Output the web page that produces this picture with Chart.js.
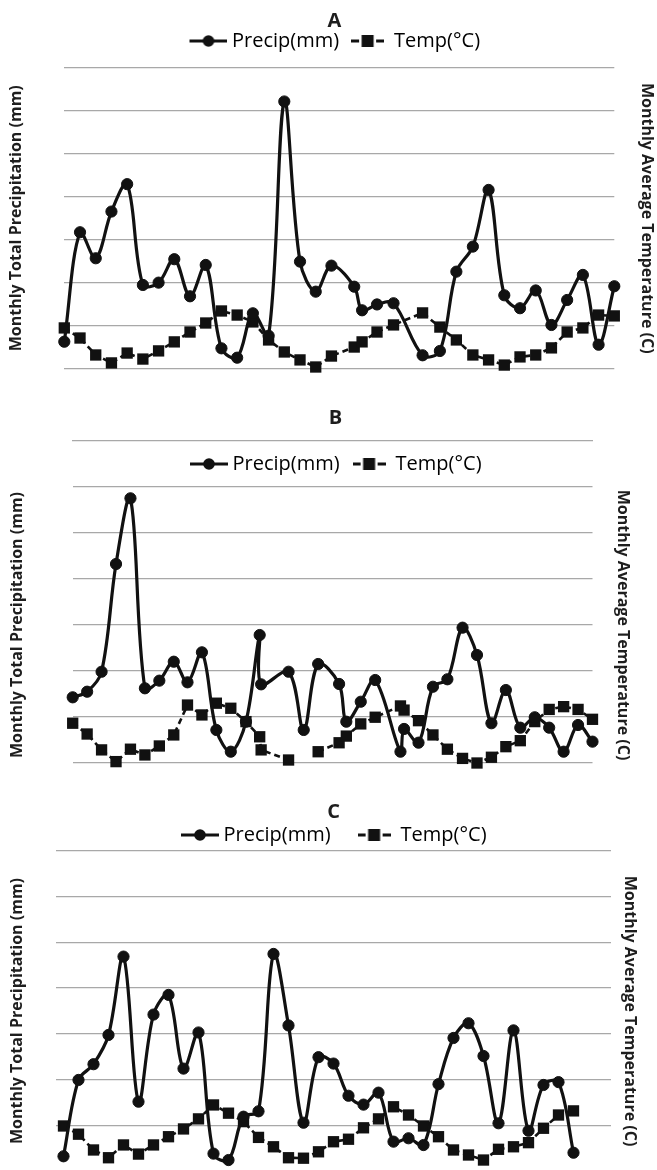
<!DOCTYPE html>
<html>
<head>
<meta charset="utf-8">
<script src="https://cdn.jsdelivr.net/npm/chart.js@4.4.1/dist/chart.umd.min.js"></script>
<style>
html,body{margin:0;padding:0;background:#fff;width:657px;height:1170px;overflow:hidden;position:relative;}
.panel{position:absolute;left:0;width:657px;}
canvas{display:block;}
</style>
</head>
<body>
<div class="panel" style="top:0;height:390px"><canvas id="cA" width="657" height="390"></canvas></div>
<div class="panel" style="top:390px;height:390px"><canvas id="cB" width="657" height="390"></canvas></div>
<div class="panel" style="top:780px;height:400px"><canvas id="cC" width="657" height="400"></canvas></div>
<script>
// ---------- DATA (month position along the time axis, values) ----------
const panelTitles = ['A', 'B', 'C'];
const seriesNames = ['Precip(mm)', 'Temp(°C)'];
const leftAxisTitle = 'Monthly Total Precipitation (mm)';
const rightAxisTitle = 'Monthly Average Temperature (C)';

const monthsA = [0,1,2,3,4,5,6,7,8,9,10,11,12,13,14,15,16,17,18.45,18.95,19.9,20.95,22.8,23.9,24.95,26,27,28,29,30,31,32,33,34,35];
const precipA = [31.2,158.7,128.4,182.8,214.7,97.3,100,127.3,84.1,120.6,23.5,12.6,64.3,38.2,311,124.5,89.5,119.8,95.3,67.8,74.6,76,15.4,20.4,112.8,142,208,85.3,70.2,90.9,50.7,79.8,109,27.7,95.8];
const tempA = [18.9,14.2,6.3,2.6,7.2,4.4,8.2,12.4,17,21.2,26.8,24.9,21.7,13.3,7.7,4,0.7,5.8,10,12.4,17,20.3,25.9,19.3,13.3,6.3,4,1.6,5.4,6.3,9.6,17,18.9,24.9,24.5];

const monthsB = [0,1,2,3,4,5,6,7,7.95,8.95,9.95,10.95,12,12.95,13.05,14.95,16,17,18.45,18.95,19.95,20.95,22.7,22.95,23.95,24.95,25.95,27,28,29,30,31,32,33,34,35,36];
const precipB = [71.4,77.5,99.2,216.3,287.7,81.2,89.5,110.1,87.7,120.3,35.9,12.3,44.9,139.1,85.5,99.2,35.9,107.6,85.9,44.9,66.6,90.2,12.3,37,22.1,82.9,91,147.1,117.4,43.2,79.3,38.4,49.7,38.4,12.3,41.3,23.2];
const tempB = [17.3,12.6,5.7,0.6,6,3.5,7.4,12.2,25.2,20.9,26,23.8,18,11.4,5.7,1.3,null,4.9,8.8,11.7,17,19.9,24.8,23,18.4,12.2,6,2,0,2.5,7.1,9.7,18,23.3,24.5,23.3,19];

const monthsC = [0,1,2,3,4,5,6,7,8,9,10,11,12,13,14,15,16,17,18,19,20,21,22,23,24,25,26,27,28,29,30,31,32,33,34];
const precipC = [16.1,99.6,116.8,148.8,234.5,75.8,171.1,192.6,112,151.5,19,12,59.4,65.3,237.4,159.2,52.8,124.5,117.5,82.3,72.6,85.7,32.1,35.8,28.4,95,145.5,161.6,125.8,52.2,153.8,44,94.1,97.2,20];
const tempC = [19.7,16.1,9.2,5.8,11.4,7.4,11.4,15,18.4,22.8,28.9,25.3,21.6,14.7,10.6,5.8,5.6,8.4,12.8,13.9,18.9,22.8,28.1,24.5,19.7,15,9.2,7,4.8,9.5,10.6,12.4,18.7,24.5,26.3];

// ---------- STYLE ----------
const FONT = "'Open Sans', 'Noto Sans', 'DejaVu Sans', sans-serif";
const INK = '#111111';
const TEXT = '#1e1e1e';
const GRID = '#a8a8a8';
Chart.defaults.font.family = FONT;

function legendGlyph(kind) {
  const c = document.createElement('canvas');
  if (kind === 0) {
    c.width = 44; c.height = 14;
    const ctx = c.getContext('2d');
    ctx.strokeStyle = INK; ctx.lineWidth = 3.2;
    ctx.beginPath(); ctx.moveTo(6, 7); ctx.lineTo(44, 7); ctx.stroke();
    ctx.fillStyle = INK; ctx.beginPath(); ctx.arc(25, 7, 5.8, 0, Math.PI * 2); ctx.fill();
  } else {
    c.width = 33; c.height = 14;
    const ctx = c.getContext('2d');
    ctx.strokeStyle = INK; ctx.lineWidth = 3.2;
    ctx.beginPath(); ctx.moveTo(0, 7); ctx.lineTo(8, 7); ctx.moveTo(25, 7); ctx.lineTo(33, 7); ctx.stroke();
    ctx.fillStyle = INK; ctx.fillRect(10.5, 1, 12, 12);
  }
  return c;
}
const glyphs = [legendGlyph(0), legendGlyph(1)];

function buildChart(canvasId, title, months, precip, temp, g) {
  const pts = ys => months.map((m, i) => ({ x: m, y: ys[i] }));
  const scales = {
    x: { type: 'linear', min: g.xMin, max: g.xMax, display: false },
    y: {
      type: 'linear', position: 'left', min: 0, max: g.yMax,
      ticks: { display: false, stepSize: 50 },
      grid: { color: GRID, lineWidth: 1.3, drawTicks: false },
      border: { display: false },
      title: { display: true, text: leftAxisTitle, color: TEXT,
               font: { family: FONT, size: 16, weight: 'bold' },
               padding: { top: g.lt, bottom: g.lb } }
    },
    y1: {
      type: 'linear', position: 'right', min: 0, max: g.tMax,
      ticks: { display: false, stepSize: 20 },
      grid: { display: false, drawTicks: false },
      border: { display: false },
      title: { display: true, text: rightAxisTitle, color: TEXT,
               font: { family: FONT, size: 16, weight: 'bold' },
               padding: { top: g.rt, bottom: g.rb } }
    },
    spacer: {
      type: 'linear', position: 'top', weight: 500, min: 0, max: 1,
      ticks: { display: false }, grid: { display: false, drawTicks: false },
      border: { display: false },
      afterFit: s => { s.height = g.spacer; }
    }
  };
  if (g.topLine) {
    scales.topLine = {
      type: 'linear', position: 'top', weight: 1500, min: 0, max: 1,
      ticks: { display: false }, grid: { display: false, drawTicks: false },
      border: { display: true, color: GRID, width: 1.3 },
      afterFit: s => { s.height = 0; }
    };
  }
  return new Chart(document.getElementById(canvasId), {
    type: 'line',
    data: {
      datasets: [
        { label: seriesNames[0], data: pts(precip), xAxisID: 'x', yAxisID: 'y',
          borderColor: INK, backgroundColor: INK, borderWidth: 3.2, tension: 0.35,
          pointStyle: 'circle', pointRadius: 5.6, pointHoverRadius: 5.6,
          pointBackgroundColor: INK, pointBorderColor: INK, pointBorderWidth: 1,
          fill: false, clip: false, order: 1 },
        { label: seriesNames[1], data: pts(temp), xAxisID: 'x', yAxisID: 'y1',
          borderColor: INK, backgroundColor: INK, borderWidth: 2.6, borderDash: [6, 4], tension: 0,
          pointStyle: 'rect', pointRadius: 8, pointHoverRadius: 8,
          pointBackgroundColor: INK, pointBorderColor: INK, pointBorderWidth: 0,
          fill: false, clip: false, spanGaps: false, order: 2 }
      ]
    },
    options: {
      responsive: false, animation: false, devicePixelRatio: 1, events: [],
      layout: { padding: { left: g.L, right: g.R, top: 0, bottom: g.B } },
      scales: scales,
      plugins: {
        title: { display: true, text: title, color: TEXT,
                 font: { family: FONT, size: 20, weight: 'bold', lineHeight: 1.2 },
                 padding: { top: g.ta, bottom: g.tb } },
        legend: {
          display: true, position: 'top', align: 'center',
          maxHeight: g.legMax,
          labels: {
            usePointStyle: true, pointStyleWidth: 33, padding: g.lp, color: TEXT,
            font: { family: FONT, size: 20 },
            generateLabels: () => seriesNames.map((n, i) => ({
              text: n, pointStyle: glyphs[i], fillStyle: INK, strokeStyle: INK,
              lineWidth: 0, hidden: false, datasetIndex: i }))
          }
        },
        tooltip: { enabled: false }
      }
    }
  });
}

buildChart('cA', panelTitles[0], monthsA, precipA, tempA,
  { ta: 9, tb: -14, lp: 12, spacer: 7, L: 12, R: 0, B: 21.5,
    lt: -5.6, lb: 38.7, rt: 0.4, rb: 23.1, xMin: 0, xMax: 35, yMax: 350, tMax: 140 });
buildChart('cB', panelTitles[1], monthsB, precipB, tempB,
  { ta: 16, tb: 11, topLine: true, lp: 13, spacer: 3, L: 14, R: 0, B: 17,
    lt: -6.6, lb: 46.1, rt: 24.4, rb: 20.9, xMin: 0, xMax: 36, yMax: 300, tMax: 120 });
buildChart('cC', panelTitles[2], monthsC, precipC, tempC,
  { ta: 20, tb: -26, lp: 27, legMax: 53, spacer: 0, L: 10, R: 0, B: 9,
    lt: -2.6, lb: 29.4, rt: 17.4, rb: 9.4, xMin: -0.5, xMax: 36.5, yMax: 350, tMax: 140 });
</script>
</body>
</html>
